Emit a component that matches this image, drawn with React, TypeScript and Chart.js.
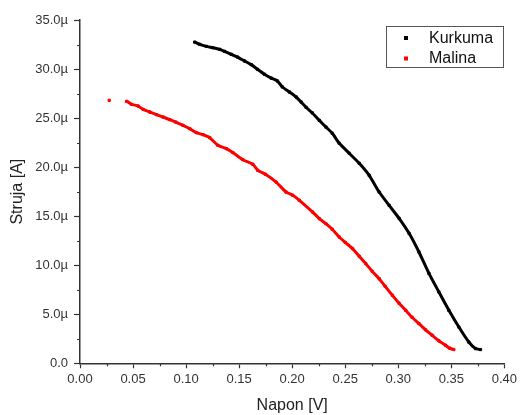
import React, { useEffect, useRef } from "react";
import { Chart, registerables } from "chart.js";

Chart.register(...registerables);

const kurkumaV = [0.1081, 0.1128, 0.1191, 0.125, 0.1316, 0.1363, 0.1426, 0.1485, 0.1551, 0.1614, 0.1673, 0.1739, 0.1802, 0.1861, 0.1908, 0.1974, 0.2037, 0.2084, 0.2131, 0.219, 0.2256, 0.2318, 0.2378, 0.2444, 0.2538, 0.2632, 0.2726, 0.282, 0.2914, 0.3008, 0.3102, 0.3195, 0.3289, 0.3383, 0.3477, 0.3571, 0.3665, 0.3728, 0.3775];
const kurkumaI = [32.75, 32.52, 32.31, 32.18, 32.01, 31.8, 31.5, 31.22, 30.82, 30.45, 29.97, 29.46, 29.08, 28.78, 28.17, 27.66, 27.15, 26.64, 26.1, 25.52, 24.77, 24.09, 23.45, 22.43, 21.41, 20.39, 19.16, 17.46, 16.1, 14.78, 13.25, 11.35, 9.17, 7.27, 5.4, 3.7, 2.17, 1.5, 1.4];

const malinaV = [0.0275, 0.0439, 0.0486, 0.0548, 0.0595, 0.0658, 0.0721, 0.0783, 0.0846, 0.0902, 0.0971, 0.1034, 0.1097, 0.1159, 0.1222, 0.13, 0.1379, 0.1441, 0.1535, 0.1629, 0.1676, 0.1748, 0.1849, 0.1942, 0.2005, 0.2068, 0.2193, 0.2256, 0.2318, 0.2378, 0.2444, 0.25, 0.2569, 0.2632, 0.2694, 0.2754, 0.282, 0.2876, 0.2945, 0.3008, 0.307, 0.313, 0.3195, 0.3258, 0.332, 0.3383, 0.3446, 0.3486, 0.3524];
const malinaI = [26.81, 26.71, 26.4, 26.23, 25.89, 25.62, 25.35, 25.11, 24.84, 24.6, 24.26, 23.92, 23.52, 23.31, 23.01, 22.22, 21.89, 21.48, 20.76, 20.29, 19.67, 19.27, 18.48, 17.46, 17.13, 16.62, 15.42, 14.75, 14.24, 13.66, 12.87, 12.33, 11.69, 10.91, 10.16, 9.38, 8.63, 7.85, 6.93, 6.12, 5.4, 4.69, 4.05, 3.41, 2.85, 2.29, 1.83, 1.53, 1.4];

const seriesNames = ["Kurkuma", "Malina"];
const seriesColors = ["#000000", "#ff0000"];

const xTicksMajor = [0, 0.05, 0.1, 0.15, 0.2, 0.25, 0.3, 0.35, 0.4];
const yTicksMajor = [0, 5, 10, 15, 20, 25, 30, 35];

const FONT = "'Liberation Sans', Arial, sans-serif";

const minorTicksPlugin = {
  id: "minorTicks",
  afterDraw(chart: any) {
    const ctx = chart.ctx;
    const xs = chart.scales.x;
    const ys = chart.scales.y;
    const area = chart.chartArea;
    ctx.save();
    ctx.strokeStyle = "#333";
    ctx.lineWidth = 1.2;
    ctx.beginPath();
    for (let i = 0; i < xTicksMajor.length - 1; i++) {
      const v = (xTicksMajor[i] + xTicksMajor[i + 1]) / 2;
      const px = Math.round(xs.getPixelForValue(v)) + 0.5;
      ctx.moveTo(px, area.bottom);
      ctx.lineTo(px, area.bottom + 3);
    }
    for (let i = 0; i < yTicksMajor.length - 1; i++) {
      const v = (yTicksMajor[i] + yTicksMajor[i + 1]) / 2;
      const py = Math.round(ys.getPixelForValue(v)) + 0.5;
      ctx.moveTo(area.left, py);
      ctx.lineTo(area.left - 3, py);
    }
    ctx.stroke();
    ctx.restore();
  },
};

const legendBoxPlugin = {
  id: "legendBox",
  afterDraw(chart: any) {
    const ctx = chart.ctx;
    ctx.save();
    const bx = 386.5, by = 26.5, bw = 117, bh = 41;
    ctx.fillStyle = "#ffffff";
    ctx.fillRect(bx, by, bw, bh);
    ctx.strokeStyle = "#555";
    ctx.lineWidth = 1;
    ctx.strokeRect(bx, by, bw, bh);
    ctx.font = `16px ${FONT}`;
    ctx.textBaseline = "middle";
    ctx.textAlign = "left";
    chart.data.datasets.forEach((ds: any, i: number) => {
      const cy = 38 + i * 20.5;
      ctx.fillStyle = ds.borderColor;
      ctx.fillRect(404, cy - 2, 4, 4);
      ctx.fillStyle = "#111";
      ctx.fillText(ds.label, 429, cy + 0.5);
    });
    ctx.restore();
  },
};

export default function App() {
  const ref = useRef<HTMLCanvasElement | null>(null);

  useEffect(() => {
    document.body.style.margin = "0";
    const canvas = ref.current;
    if (!canvas) return;
    const gapSegment = {
      borderColor: (c: any) => (c.p1.parsed.x - c.p0.parsed.x > 0.015 ? "transparent" : undefined),
    };
    const mk = (vs: number[], is: number[]) => vs.map((v, i) => ({ x: v, y: is[i] }));
    const chart = new Chart(canvas, {
      type: "scatter",
      data: {
        datasets: [
          {
            label: seriesNames[0],
            data: mk(kurkumaV, kurkumaI),
            borderColor: seriesColors[0],
            backgroundColor: seriesColors[0],
            showLine: true,
            borderWidth: 3,
            tension: 0.2,
            pointStyle: "rect",
            pointRadius: 1.6,
            pointBorderWidth: 1,
            segment: gapSegment,
          },
          {
            label: seriesNames[1],
            data: mk(malinaV, malinaI),
            borderColor: seriesColors[1],
            backgroundColor: seriesColors[1],
            showLine: true,
            borderWidth: 3,
            tension: 0.2,
            pointStyle: "rect",
            pointRadius: 1.6,
            pointBorderWidth: 1,
            segment: gapSegment,
          },
        ],
      },
      options: {
        responsive: false,
        animation: false,
        events: [],
        layout: { padding: { left: 0, top: 20, right: 14.3, bottom: 0 } },
        plugins: {
          legend: { display: false },
          tooltip: { enabled: false },
        },
        scales: {
          x: {
            type: "linear",
            min: 0,
            max: 0.4,
            afterFit: (s: any) => {
              s.height = 51.7;
            },
            border: { display: true, color: "#333", width: 1.5 },
            grid: { drawOnChartArea: false, drawTicks: true, tickLength: 5, color: "#333", tickWidth: 1.2 },
            ticks: {
              stepSize: 0.05,
              padding: 3,
              color: "#333",
              font: { family: FONT, size: 13 },
              callback: (v: any) => Number(v).toFixed(2),
            },
            title: {
              display: true,
              text: "Napon [V]",
              color: "#222",
              font: { family: FONT, size: 16 },
              padding: { top: 0, bottom: 0 },
            },
          },
          y: {
            type: "linear",
            min: 0,
            max: 35,
            afterFit: (s: any) => {
              s.width = 80;
            },
            border: { display: true, color: "#333", width: 1.5 },
            grid: { drawOnChartArea: false, drawTicks: true, tickLength: 6, color: "#333", tickWidth: 1.2 },
            ticks: {
              stepSize: 5,
              padding: 6,
              color: "#333",
              font: { family: FONT, size: 13 },
              callback: (v: any) => (Number(v) === 0 ? "0.0" : Number(v).toFixed(1) + "µ"),
            },
            title: {
              display: true,
              text: "Struja [A]",
              color: "#222",
              font: { family: FONT, size: 16 },
              padding: { top: 8, bottom: 0 },
            },
          },
        },
      },
      plugins: [minorTicksPlugin, legendBoxPlugin],
    } as any);
    return () => chart.destroy();
  }, []);

  return (
    <div style={{ position: "absolute", left: 0, top: 0, width: 520, height: 415, background: "#fff" }}>
      <canvas ref={ref} width={520} height={415} style={{ width: 520, height: 415, display: "block" }} />
    </div>
  );
}
